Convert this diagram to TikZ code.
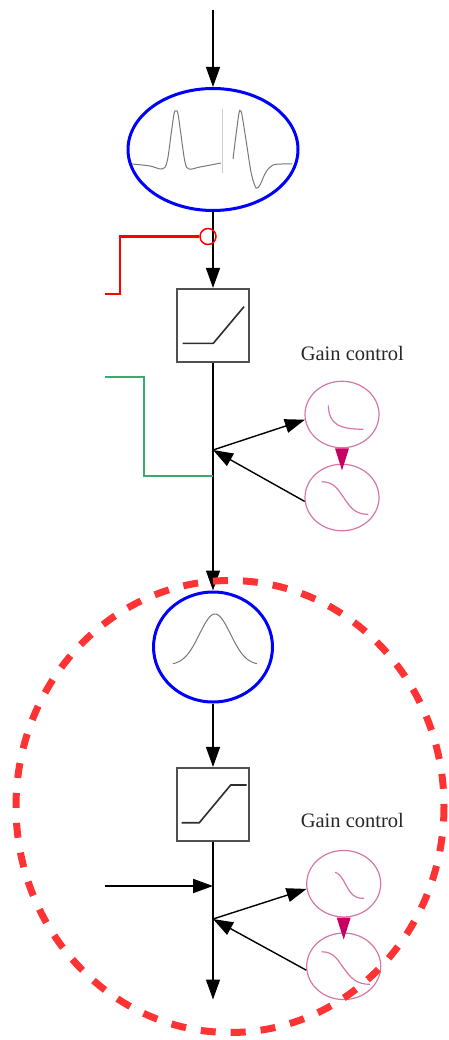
\documentclass[tikz,border=0pt]{standalone}
\usepackage{fontspec}
\setmainfont{Liberation Serif}
\usetikzlibrary{arrows.meta,shapes.geometric}
\definecolor{gainpink}{RGB}{214,118,166}
\definecolor{tripink}{RGB}{200,0,100}
\definecolor{boxgray}{RGB}{80,80,80}
\definecolor{rampgray}{RGB}{45,45,45}
\definecolor{wavegray}{RGB}{120,120,120}
\definecolor{greenline}{RGB}{60,170,110}
\definecolor{dashred}{RGB}{255,51,51}
\begin{document}
\begin{tikzpicture}[x=1pt,y=-1pt,
  conn/.style={draw=black, line width=1.4pt},
  arr/.style={conn, -{Triangle[length=20pt,width=14pt]}},
  blueell/.style={ellipse, draw=blue, line width=3pt, inner sep=0pt},
  gbox/.style={rectangle, draw=boxgray, line width=1.6pt, minimum width=72.5pt, minimum height=73.5pt, inner sep=0pt},
  ramp/.style={draw=rampgray, line width=1.6pt},
  gaincirc/.style={ellipse, draw=gainpink, line width=1.2pt, minimum width=74pt, minimum height=66.5pt, inner sep=0pt},
  gaincurve/.style={draw=gainpink, line width=1.2pt},
  wave/.style={draw=wavegray, line width=1pt},
  gaintext/.style={font=\fontsize{20.5}{24}\selectfont, text=black!85, inner sep=0pt},
  reddash/.style={draw=dashred, line width=7pt, dash pattern=on 15pt off 15pt}
]
\useasboundingbox (0,0) rectangle (449,1040);

% ---- upper section ----
\coordinate (top) at (213,10);
\node[blueell, minimum width=170pt, minimum height=122pt] (e1) at (213,149.5) {};
\draw[arr] (top) -- (e1.north);

% waveforms inside e1
\draw[wave] plot[smooth, tension=0.6] coordinates {(132,164) (150,166) (162,169) (167,162) (171,135) (174,114) (176,111) (178,114) (181,135) (185,162) (189,169) (200,167) (221,163)};
\draw[draw=gray!40, line width=0.8pt] (222.5,109) -- (222.5,173);
\draw[wave] plot[smooth, tension=0.6] coordinates {(233,159) (236,135) (239,113) (240.5,111) (242,115) (246,140) (251,172) (255,186) (257,188) (260,185) (266,172) (273,165) (282,164) (292,164)};

\node[gbox] (b1) at (213,325.5) {};
\draw[arr] (e1.south) -- (b1.north);
\draw[ramp] (182.7,343.3) -- (213.3,343.3) -- (244,306.7);

% red inhibitory input
\node[circle, draw=red, line width=1.5pt, minimum size=16pt, inner sep=0pt] (rc) at (208,236.5) {};
\coordinate (r1) at (120,236.5);
\coordinate (r2) at (120,294);
\coordinate (r3) at (105,294);
\draw[red, line width=2.5pt] (rc.west) -- (r1) -- (r2) -- (r3);

% gaussian node
\node[blueell, minimum width=119pt, minimum height=110pt] (e2) at (213,647) {};
\draw[arr] (b1.south) -- (e2.north);
\draw[wave] plot[domain=-42:42, samples=61, smooth] ({215+\x},{665-51*exp(-\x*\x/480)});

% green input
\coordinate (gj) at (213,476);
\coordinate (g0) at (105,377);
\coordinate (ga) at (143.5,377);
\coordinate (gb) at (143.5,476);
\draw[draw=greenline, line width=2pt] (g0) -- (ga) -- (gb) -- (gj);

% gain control 1
\coordinate (j1) at (213,450);
\node[gaintext, anchor=base] (gt1) at (352.3,360.5) {Gain control};
\node[gaincirc] (g1) at (342,414.5) {};
\node[gaincirc] (g2) at (342,497.5) {};
\draw[gaincurve] (328.3,405.5) .. controls (329,425) and (340,429) .. (363.3,429.3);
\draw[gaincurve] (321.7,481.7) .. controls (335,482) and (338,490) .. (344,498) .. controls (350,507) and (355,514.5) .. (368.3,514.3);
\fill[tripink] ([xshift=-7pt]g1.south) -- ([xshift=7pt]g1.south) -- ([yshift=-22pt]g1.south) -- cycle;
\draw[arr] (j1) -- (g1.188);
\draw[arr] (g2.186) -- (j1);

% ---- lower section ----
\node[gbox] (b2) at (213,804.5) {};
\draw[arr] (e2.south) -- (b2.north);
\draw[ramp] (181.7,822.7) -- (199.3,822.7) -- (230.7,785) -- (246.7,785);

\coordinate (hin) at (105,886);
\coordinate (hj) at (213,886);
\draw[arr, line width=2pt] (hin) -- (hj);

\coordinate (j2) at (213,919);
\coordinate (bot) at (213,999.5);
\draw[arr] (b2.south) -- (bot);

\node[gaintext, anchor=base] (gt2) at (352.3,827.3) {Gain control};
\node[gaincirc] (g3) at (343.7,883.7) {};
\node[gaincirc] (g4) at (343.7,966.3) {};
\draw[gaincurve] (335,872.3) .. controls (342,874) and (345,885) .. (350,891.7) .. controls (354,897) and (358,898.5) .. (364,898.3);
\draw[gaincurve] (321.7,951.7) .. controls (335,952) and (338,961) .. (344,968.5) .. controls (350,977) and (356,984.5) .. (370,984.3);
\fill[tripink] ([xshift=-7pt]g3.south) -- ([xshift=7pt]g3.south) -- ([yshift=-22pt]g3.south) -- cycle;
\draw[arr] (j2) -- (g3.188);
\draw[arr] (g4.186) -- (j2);

% dashed red outline
\draw[reddash] (230,806.5) ellipse [x radius=214, y radius=226];
\end{tikzpicture}
\end{document}
